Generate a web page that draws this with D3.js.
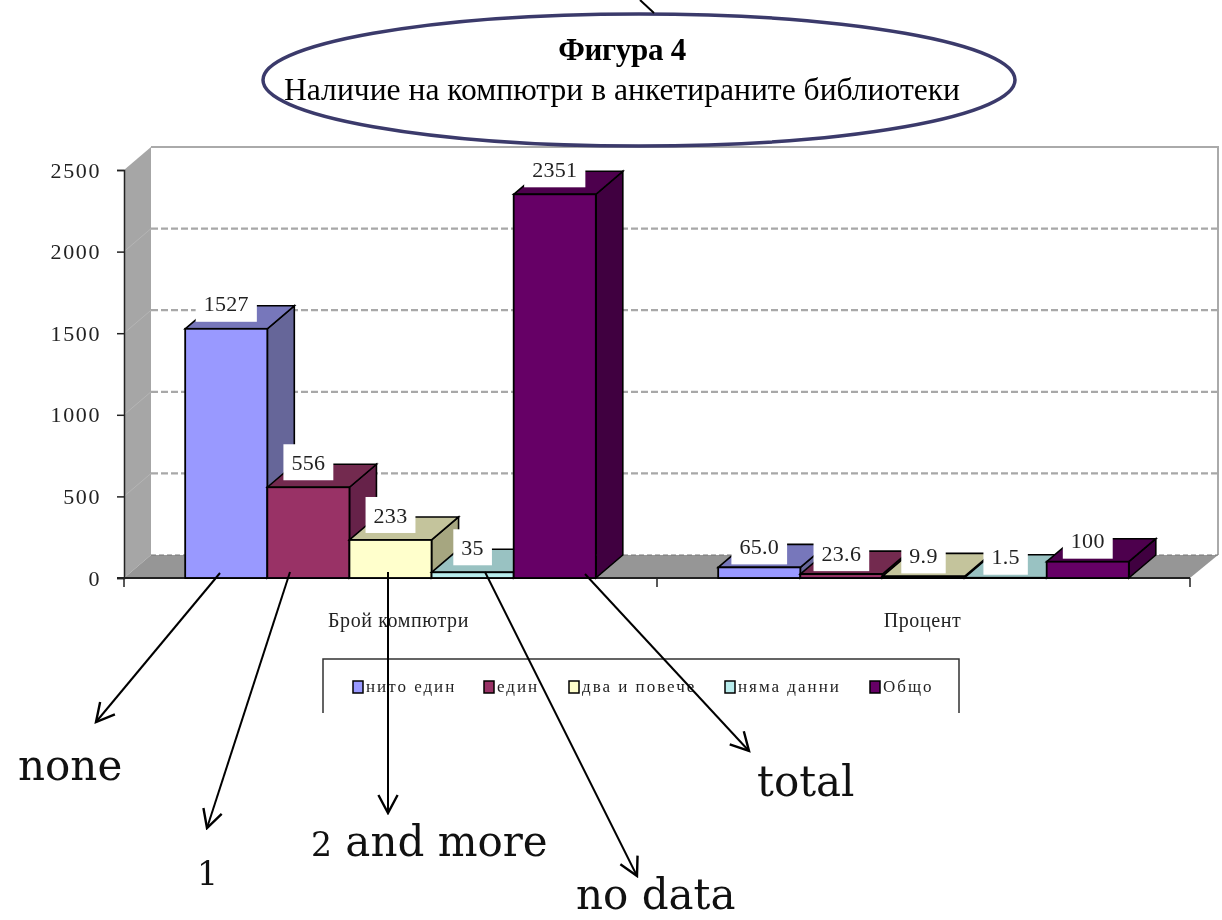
<!DOCTYPE html>
<html><head><meta charset="utf-8">
<script src="https://cdn.jsdelivr.net/npm/d3@7"></script>
<style>html,body{margin:0;padding:0;background:#fff;overflow:hidden}svg{display:block}</style>
</head><body>
<svg id="c" width="1222" height="920"></svg>
<script>
const categories = ["Брой компютри", "Процент"];
const seriesNames = ["нито един", "един", "два и повече", "няма данни", "Общо"];
const countValues = [1527, 556, 233, 35, 2351];
const percentValues = [65.0, 23.6, 9.9, 1.5, 100];
const countLabels = ["1527", "556", "233", "35", "2351"];
const percentLabels = ["65.0", "23.6", "9.9", "1.5", "100"];
const yTicks = [0, 500, 1000, 1500, 2000, 2500];
const frontColors = ["#9999ff", "#993366", "#ffffcc", "#b8ecec", "#660066"];
const sideColors = ["#666699", "#66224a", "#a6a680", "#8ab0b0", "#400040"];
const topColors = ["#7777bb", "#732950", "#c4c49c", "#99c2c2", "#4d004d"];
const annotations = ["none", "1", "2 and more", "no data", "total"];

const svg = d3.select("#c");
const defs = svg.append("defs");
defs.append("filter").attr("id","soft").attr("x","-2%").attr("y","-2%").attr("width","104%").attr("height","104%")
  .append("feGaussianBlur").attr("stdDeviation",0.7);
const m = defs.append("marker").attr("id","arr").attr("viewBox","0 0 20 20").attr("refX",18).attr("refY",10)
  .attr("markerWidth",24).attr("markerHeight",24).attr("markerUnits","userSpaceOnUse").attr("orient","auto");
m.append("path").attr("d","M3,2 L18,10 L3,18").attr("fill","none").attr("stroke","#000").attr("stroke-width",2);

const serif = "'Liberation Serif', serif";
const x0 = d3.scaleBand().domain(categories).range([124,1190]);
const x1 = d3.scaleBand().domain(seriesNames).range([0,x0.bandwidth()]).paddingOuter(0.745).paddingInner(0);
const y = d3.scaleLinear().domain([0,2500]).range([578,170]);
const dx = 27, dy = -23;
const g = svg.append("g").attr("filter","url(#soft)");
const [xl,xr] = x0.range();
const poly = (pts,f,s,sw) => g.append("polygon").attr("points",pts.map(p=>p.join(",")).join(" ")).attr("fill",f).attr("stroke",s||"none").attr("stroke-width",sw||0);

// walls
poly([[xl,y(2500)],[xl+dx,y(2500)+dy],[xl+dx,y(0)+dy],[xl,y(0)]],"#a6a6a6");
poly([[xl,y(0)],[xl+dx,y(0)+dy],[xr+dx+1,y(0)+dy],[xr,y(0)]],"#969696");
g.append("path").attr("d",`M${xl+dx},${y(2500)+dy}H${xr+dx+1}V${y(0)+dy}`).attr("fill","none").attr("stroke","#aaa").attr("stroke-width",2);
g.selectAll("line.grid").data(yTicks.slice(1,5)).join("line")
  .attr("x1",xl+dx).attr("x2",xr+dx+1).attr("y1",d=>y(d)+dy).attr("y2",d=>y(d)+dy)
  .attr("stroke","#a8a8a8").attr("stroke-width",2.2).attr("stroke-dasharray","7 3");
g.selectAll("line.gridw").data(yTicks.slice(1,5)).join("line")
  .attr("x1",xl).attr("x2",xl+dx).attr("y1",d=>y(d)).attr("y2",d=>y(d)+dy).attr("stroke","#b5b5b5").attr("stroke-width",1);
g.append("line").attr("x1",xl+dx).attr("x2",xr+dx+1).attr("y1",y(0)+dy).attr("y2",y(0)+dy).attr("stroke","#777").attr("stroke-width",1).attr("stroke-dasharray","5 3");

// axes
const axY = g.append("g").attr("transform",`translate(${xl},0)`).call(d3.axisLeft(y).tickValues(yTicks).tickSize(7).tickPadding(16).tickFormat(d3.format("d")));
axY.selectAll("text").attr("font-family",serif).attr("font-size",22).attr("fill","#222").attr("letter-spacing",1.6);
axY.selectAll("line,path").attr("stroke","#222").attr("stroke-width",1.5);
const edges = [...categories.map(c=>x0(c)), xr];
g.selectAll("line.xt").data(edges).join("line").attr("x1",d=>d).attr("x2",d=>d).attr("y1",y(0)).attr("y2",y(0)+9).attr("stroke","#222").attr("stroke-width",1.5);
g.append("line").attr("x1",xl-7).attr("x2",xr).attr("y1",y(0)).attr("y2",y(0)).attr("stroke","#222").attr("stroke-width",2);

// bars
const drawBars = (cat, values) => {
  values.forEach((v,i)=>{
    const a = x0(cat)+x1(seriesNames[i]), b = a+x1.bandwidth(), t = y(v), f = y(0);
    poly([[b,f],[b+dx,f+dy],[b+dx,t+dy],[b,t]],sideColors[i],"#000",1.6);
    poly([[a,t],[a+dx,t+dy],[b+dx,t+dy],[b,t]],topColors[i],"#000",1.6);
    g.append("rect").attr("x",a).attr("y",t).attr("width",x1.bandwidth()).attr("height",f-t)
      .attr("fill",frontColors[i]).attr("stroke","#000").attr("stroke-width",1.8);
  });
};
drawBars(categories[0],countValues);
drawBars(categories[1],percentValues);

// value labels
const drawLabels = (cat, values, labels, lift) => {
  values.forEach((v,i)=>{
    const cx = x0(cat)+x1(seriesNames[i])+x1.bandwidth()/2, ty = y(v)-lift;
    const box = g.append("rect").attr("fill","#fff");
    const t = g.append("text").attr("x",cx).attr("y",ty).attr("dy","0.35em").attr("text-anchor","middle")
      .attr("font-family",serif).attr("font-size",22).attr("letter-spacing",0.3).attr("fill","#222").text(labels[i]);
    const w = t.node().getComputedTextLength();
    box.attr("x",cx-w/2-8).attr("width",w+16).attr("y",ty-18).attr("height",36);
  });
};
drawLabels(categories[0],countValues,countLabels,25);
drawLabels(categories[1],percentValues,percentLabels,21);

// category labels
const catNudge = [8,-1];
categories.forEach((c,i)=>{
  g.append("text").attr("x",x0(c)+x0.bandwidth()/2+catNudge[i]).attr("y",627).attr("text-anchor","middle")
    .attr("font-family",serif).attr("font-size",20).attr("letter-spacing",0.6).attr("fill","#222").text(c);
});

// legend
const legX = d3.scaleOrdinal().domain(seriesNames).range([353,484,569,725,870]);
g.append("path").attr("d","M323,713V659H959V713").attr("fill","none").attr("stroke","#333").attr("stroke-width",1.5);
seriesNames.forEach((s,i)=>{
  g.append("rect").attr("x",legX(s)).attr("y",681).attr("width",10).attr("height",12).attr("fill",frontColors[i]).attr("stroke","#000").attr("stroke-width",1.5);
  g.append("text").attr("x",legX(s)+13).attr("y",692).attr("font-family",serif).attr("font-size",17).attr("letter-spacing",2).attr("fill","#222").text(s);
});

// title
svg.append("ellipse").attr("cx",639).attr("cy",80).attr("rx",376).attr("ry",66).attr("fill","none").attr("stroke","#3b3a6b").attr("stroke-width",3.5);
const title = svg.append("g").attr("filter","url(#soft)");
title.append("text").attr("x",622).attr("y",60).attr("text-anchor","middle").attr("font-family",serif).attr("font-weight","bold").attr("font-size",31).attr("fill","#000").attr("letter-spacing",-0.3).text("Фигура 4");
title.append("text").attr("x",622).attr("y",100).attr("text-anchor","middle").attr("font-family",serif).attr("font-size",31.6).attr("fill","#000").text("Наличие на компютри в анкетираните библиотеки");

// arrows
const arrowStart = [[220,573],[290,572],[388,572],[485,572],[585,574]];
const arrowEnd = [[96,722],[207,828],[388,813],[637,876],[749,751]];
arrowStart.forEach((p,i)=>{
  svg.append("line").attr("x1",p[0]).attr("y1",p[1]).attr("x2",arrowEnd[i][0]).attr("y2",arrowEnd[i][1])
    .attr("stroke","#000").attr("stroke-width",2).attr("marker-end","url(#arr)");
});
svg.append("line").attr("x1",640).attr("y1",0).attr("x2",654).attr("y2",13).attr("stroke","#000").attr("stroke-width",2);

// annotation text: numerals are set smaller, as old-style figures
const annPos = [[18,780],[197,885],[311,856],[576,909],[757,796]];
annotations.forEach((a,i)=>{
  const t = svg.append("text").attr("x",annPos[i][0]).attr("y",annPos[i][1]).attr("font-family","'DejaVu Serif', serif").attr("font-size",42).attr("fill","#111");
  const parts = a.match(/^(\d)(.*)$/);
  if (parts) { t.append("tspan").attr("font-size",33).text(parts[1]); t.append("tspan").text(parts[2]); }
  else t.text(a);
});
</script>
</body></html>
